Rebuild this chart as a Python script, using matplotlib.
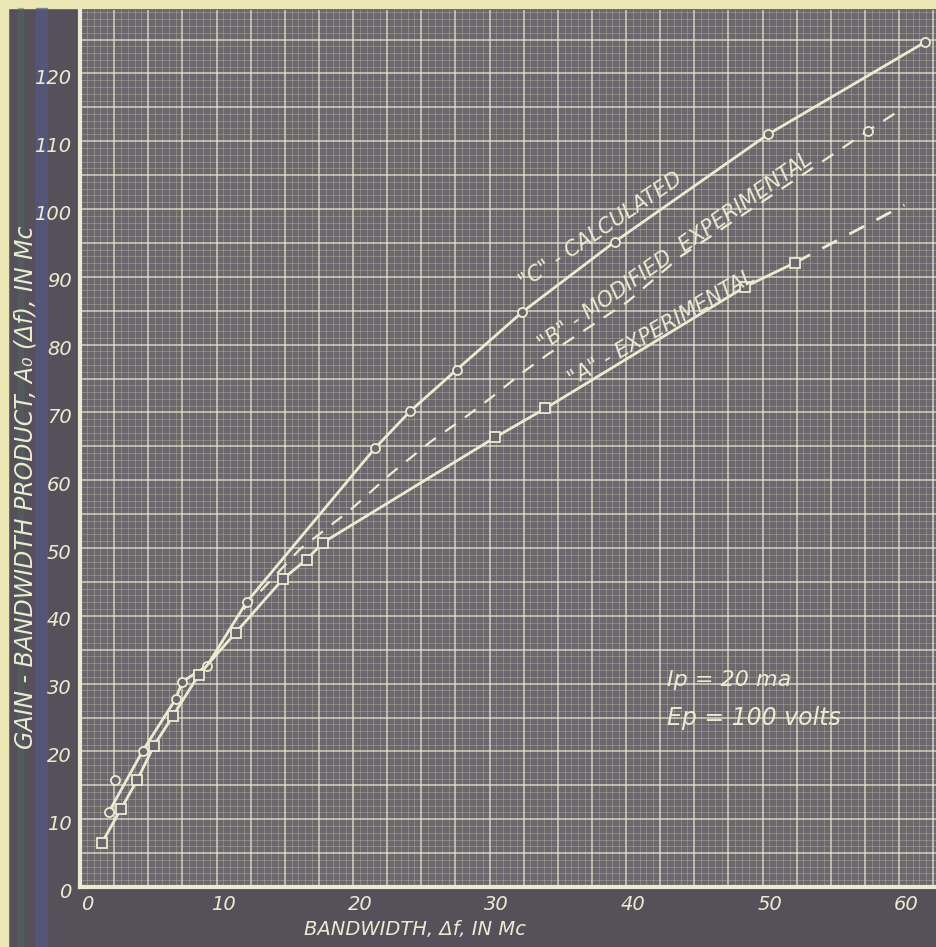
import matplotlib
matplotlib.use("Agg")
import matplotlib.pyplot as plt
from matplotlib.patches import Rectangle
from matplotlib.transforms import ScaledTranslation
import numpy as np

# ---------------- data ----------------
c_x = [2.1, 4.6, 7.0, 7.5, 9.3, 12.2, 21.6, 24.2, 27.6, 32.4, 39.2, 50.4, 61.9]
c_y = [11.0, 20.1, 27.7, 30.3, 32.6, 42.0, 64.7, 70.2, 76.3, 84.8, 95.2, 111.0, 124.6]

a_x = [1.6, 3.0, 4.2, 5.4, 6.8, 8.7, 11.4, 14.9, 16.6, 17.8, 30.4, 34.1, 48.7, 52.4]
a_y = [6.5, 11.5, 15.8, 20.8, 25.2, 31.3, 37.5, 45.5, 48.3, 50.8, 66.3, 70.6, 88.5, 92.1]
a_ext_x = [52.4, 60.4]
a_ext_y = [92.1, 100.6]

b_x = [12.0, 16.1, 19.8, 22.8, 25.7, 28.1, 30.2, 32.5, 34.3, 36.8, 40.1, 44.0, 54.9, 57.7, 60.4]
b_y = [41.0, 49.8, 55.6, 61.0, 65.7, 69.1, 72.3, 76.0, 78.6, 81.9, 86.3, 93.0, 107.7, 111.5, 115.0]
b_mark_x = [2.6, 57.7]
b_mark_y = [15.8, 111.5]

x_ticks = [0, 10, 20, 30, 40, 50, 60]
y_ticks = [0, 10, 20, 30, 40, 50, 60, 70, 80, 90, 100, 110, 120]

# ---------------- style ----------------
BG = "#6c676d"
DARK = "#55505a"
INK = "#ecebd2"
PAPER = "#ebe8b6"
FONT = dict(family="DejaVu Sans", style="italic", color=INK)

W, H = 936, 947
fig = plt.figure(figsize=(W / 100, H / 100), dpi=100)
fig.patch.set_facecolor(DARK)

# paper border and coloured bands of the scan
fig.patches.append(Rectangle((0, 1 - 8 / H), 1, 8 / H, transform=fig.transFigure,
                             color=PAPER, zorder=-10))
fig.patches.append(Rectangle((0, 0), 8 / W, 1, transform=fig.transFigure,
                             color=PAPER, zorder=-10))
fig.patches.append(Rectangle((36 / W, 0), 11 / W, 1 - 8 / H, transform=fig.transFigure,
                             color="#565a8c", alpha=0.6, zorder=-9))
fig.patches.append(Rectangle((18 / W, 0), 5 / W, 1 - 8 / H, transform=fig.transFigure,
                             color="#4f6a5c", alpha=0.4, zorder=-9))

x0, x1 = 80, 936
y0, y1 = 887, 10
ax = fig.add_axes([x0 / W, 1 - y0 / H, (x1 - x0) / W, (y0 - y1) / H])
ax.set_facecolor(BG)
ax.set_xlim(0, (x1 - x0) / 13.65)
ax.set_ylim(0, (y0 - y1) / 6.78)

# graph-paper grid
for v in np.arange(0.5, 63, 0.5):
    major = abs(v / 2.5 - round(v / 2.5)) < 1e-6
    ax.axvline(v, color=INK, lw=1.1 if major else 0.6, alpha=0.8 if major else 0.28, zorder=1)
for v in np.arange(1, 130, 1):
    major = v % 5 == 0
    ax.axhline(v, color=INK, lw=1.1 if major else 0.6, alpha=0.8 if major else 0.28, zorder=1)

for s in ["top", "right"]:
    ax.spines[s].set_visible(False)
for s in ["left", "bottom"]:
    ax.spines[s].set_color(INK)
    ax.spines[s].set_linewidth(3)

ax.set_xticks(x_ticks)
ax.set_yticks(y_ticks)
ax.set_xticklabels([str(t) for t in x_ticks], fontsize=14, fontstyle="italic", color=INK)
ax.set_yticklabels([str(t) for t in y_ticks], fontsize=14, fontstyle="italic", color=INK)
ax.tick_params(length=0, pad=6)
shift = ScaledTranslation(7 / 100, 0, fig.dpi_scale_trans)
for lab in ax.get_xticklabels():
    lab.set_transform(lab.get_transform() + shift)
shift_y = ScaledTranslation(0, -3 / 100, fig.dpi_scale_trans)
for lab in ax.get_yticklabels():
    lab.set_transform(lab.get_transform() + shift_y)

# curves
mk = dict(markersize=6.5, markerfacecolor=BG, markeredgecolor=INK, markeredgewidth=1.3)
ax.plot(c_x, c_y, "-", color=INK, lw=2, marker="o", zorder=5, **mk)
ax.plot(a_x, a_y, "-", color=INK, lw=2, marker="s", zorder=5, **mk)
ax.plot(a_ext_x, a_ext_y, "--", color=INK, lw=2, dashes=(6, 5), zorder=4)
ax.plot(b_x, b_y, "--", color=INK, lw=1.6, dashes=(6, 5), zorder=4)
ax.plot(b_mark_x, b_mark_y, "o", linestyle="none", zorder=5, **mk)

# labels on curves
ax.text(38.2, 96.8, '"C" - CALCULATED', rotation=34, ha="center", va="center",
        fontsize=15, zorder=6, **FONT)
up = ScaledTranslation(-1.5 / 100, 2.5 / 100, fig.dpi_scale_trans)
ax.text(44.0, 92.6, '"B" - MODIFIED  EXPERIMENTAL', rotation=35, ha="center", va="baseline",
        rotation_mode="anchor", fontsize=15, zorder=6, transform=ax.transData + up, **FONT)
ax.text(42.6, 82.4, '"A" - EXPERIMENTAL', rotation=30, ha="center", va="center",
        fontsize=15, zorder=6, **FONT)

ax.text(43.0, 30.5, "Ip = 20 ma", ha="left", va="center", fontsize=16, zorder=6, **FONT)
ax.text(43.0, 24.9, "Ep = 100 volts", ha="left", va="center", fontsize=17, zorder=6, **FONT)

fig.text(415 / W, 1 - 929 / H, "BANDWIDTH, Δf, IN Mc", ha="center", va="center",
         fontsize=14, **FONT)
fig.text(26 / W, 1 - 487 / H, "GAIN - BANDWIDTH PRODUCT, A\u2080 (Δf), IN Mc",
         rotation=90, ha="center", va="center", fontsize=17, **FONT)

fig.savefig("out.png", dpi=100, facecolor=fig.get_facecolor())
